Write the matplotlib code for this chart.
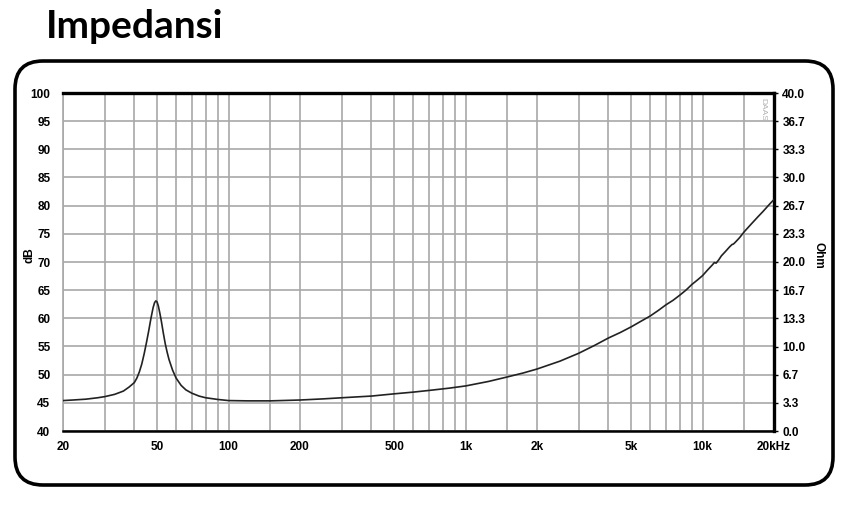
import matplotlib.pyplot as plt
import numpy as np
from matplotlib.patches import FancyBboxPatch
from matplotlib.ticker import FixedLocator, NullFormatter

# impedance curve (Hz, dB on left scale)
freq = [20, 22, 25, 28, 30, 33, 35, 36, 38, 39, 40, 41, 42, 43, 44, 45, 46, 47,
        48, 48.7, 49.3, 49.9, 50.5, 51.2, 52, 53, 54, 55, 56, 58, 60, 63, 66,
        70, 75, 80, 90, 100, 120, 150, 200, 250, 300, 400, 500, 600, 700, 850,
        1000, 1250, 1500, 1750, 2000, 2500, 3000, 3500, 4000, 4500, 5000, 5500,
        6000, 6500, 7000, 7500, 8000, 8500, 9000, 9500, 10000, 10500, 11000,
        11200, 11400, 11700, 12000, 12500, 13000, 13300, 13500, 13800, 14300,
        15000, 16000, 17000, 18000, 19000, 20000]
level = [45.4, 45.5, 45.65, 45.9, 46.1, 46.5, 46.9, 47.1, 47.8, 48.2, 48.6, 49.4,
         50.5, 51.9, 53.7, 55.7, 57.8, 60.0, 61.9, 62.8, 63.1, 62.9, 62.2, 61.0,
         59.5, 57.4, 55.5, 54.0, 52.7, 50.8, 49.4, 48.1, 47.3, 46.7, 46.2, 45.9,
         45.6, 45.4, 45.35, 45.35, 45.5, 45.7, 45.9, 46.2, 46.6, 46.9, 47.2,
         47.6, 48.0, 48.8, 49.6, 50.3, 51.0, 52.4, 53.8, 55.2, 56.5, 57.5, 58.5,
         59.5, 60.4, 61.4, 62.4, 63.2, 64.1, 65.0, 66.0, 66.8, 67.6, 68.6, 69.5,
         69.9, 69.8, 70.4, 71.1, 71.9, 72.7, 73.1, 73.2, 73.6, 74.3, 75.4, 76.7,
         77.9, 79.0, 80.1, 81.1]

x_grid = [20, 30, 40, 50, 60, 70, 80, 90, 100, 150, 200, 300, 400, 500, 600, 700,
          800, 900, 1000, 1500, 2000, 3000, 4000, 5000, 6000, 7000, 8000, 9000,
          10000, 15000, 20000]
x_ticks = [20, 50, 100, 200, 500, 1000, 2000, 5000, 10000, 20000]
x_labels = ["20", "50", "100", "200", "500", "1k", "2k", "5k", "10k", "20kHz"]
db_ticks = list(range(40, 101, 5))
ohm_ticks = np.linspace(0, 40, 13)

plt.rcParams['font.family'] = ['Liberation Sans', 'DejaVu Sans']

fig = plt.figure(figsize=(8.5, 5.11), dpi=100)

# background layer in pixel units for the title and rounded frame
bg = fig.add_axes([0, 0, 1, 1])
bg.set_xlim(0, 850)
bg.set_ylim(511, 0)
bg.axis("off")
bg.add_patch(FancyBboxPatch((15, 61), 818, 424,
                            boxstyle="round,pad=0,rounding_size=28",
                            fill=False, ec="black", lw=2.6))
bg.text(46, 38, "Impedansi", fontsize=28, fontweight="bold",
        family=["Lato", "DejaVu Sans"], ha="left", va="baseline")
bg.text(30, 255, "dB", rotation=90, fontsize=8.5, fontweight="bold",
        ha="center", va="center")
bg.text(819, 255, "Ohm", rotation=-90, fontsize=8.5, fontweight="bold",
        ha="center", va="center")

ax = fig.add_axes([63 / 850, 1 - 431 / 511, (774 - 63) / 850, (431 - 93) / 511])
ax.set_xscale("log")
ax.set_xlim(20, 20000)
ax.set_ylim(40, 100)
ax.plot(freq, level, color="#222222", lw=1.2, zorder=3)

ax.xaxis.set_major_locator(FixedLocator(x_ticks))
ax.set_xticklabels(x_labels)
ax.xaxis.set_minor_locator(FixedLocator(x_grid))
ax.xaxis.set_minor_formatter(NullFormatter())
ax.set_yticks(db_ticks)
ax.grid(which="both", axis="x", color="#a8a8a8", lw=1.2)
ax.grid(which="major", axis="y", color="#a8a8a8", lw=1.2)
ax.tick_params(which="both", length=0)
ax.tick_params(axis="x", which="major", pad=7, labelsize=8.5)
ax.tick_params(axis="y", pad=9, labelsize=8.5)
for lab in ax.get_xticklabels() + ax.get_yticklabels():
    lab.set_fontweight("bold")

ax.spines["left"].set_color("#a8a8a8")
ax.spines["left"].set_linewidth(1.2)
ax.spines["top"].set_linewidth(2.4)
ax.spines["bottom"].set_linewidth(1.8)
ax.spines["right"].set_linewidth(2.4)

ax2 = ax.twinx()
ax2.set_ylim(0, 40)
ax2.set_yticks(ohm_ticks)
ax2.set_yticklabels(["%.1f" % v for v in ohm_ticks])
ax2.tick_params(axis="y", length=3, width=1, pad=3, labelsize=8.5)
for lab in ax2.get_yticklabels():
    lab.set_fontweight("bold")
for s in ax2.spines.values():
    s.set_visible(False)

ax.text(0.985, 0.985, "DAAS", transform=ax.transAxes, rotation=-90,
        fontsize=6, color="#b0b0b0", ha="center", va="top")

fig.savefig("out.png", dpi=100)
